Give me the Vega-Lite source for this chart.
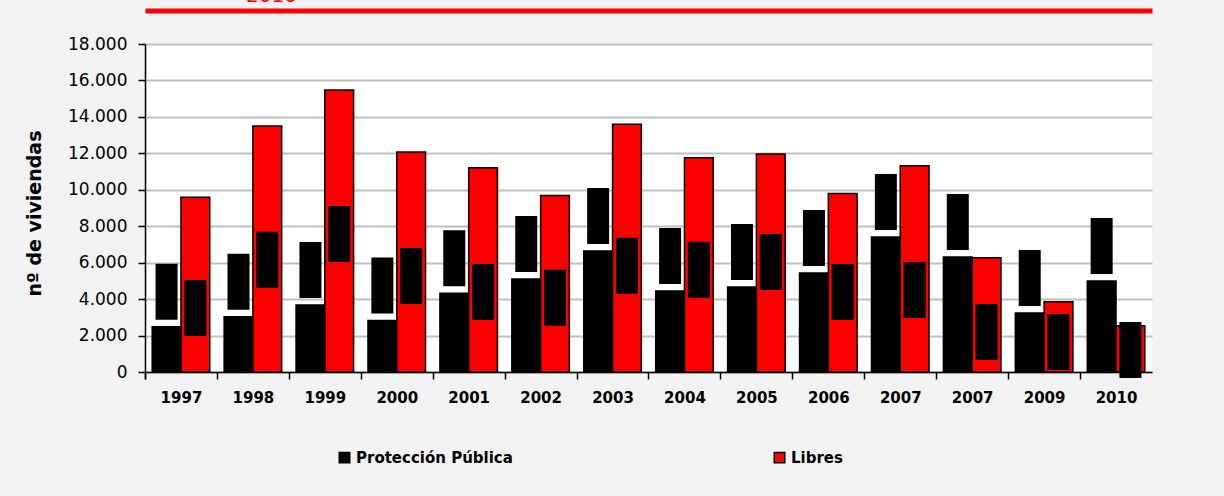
{
  "$schema": "https://vega.github.io/schema/vega-lite/v6.json",
  "width": 1007,
  "height": 328,
  "autosize": {"type": "none"},
  "padding": {"left": 145, "top": 44, "right": 72, "bottom": 124},
  "background": "#f2f2f2",
  "view": {"fill": "#ffffff", "stroke": null},
  "title": {"text": "2010", "color": "#ff0000", "fontSize": 20, "font": "DejaVu Sans", "fontWeight": "normal", "anchor": "start", "frame": "group", "dx": 101, "offset": 3, "dy": 14, "baseline": "alphabetic"},
  "data": {
    "values": [
      {"periodo": "1997", "serie": "Protección Pública", "valor": 2490},
      {"periodo": "1997", "serie": "Libres", "valor": 9590, "etiqueta": 3510},
      {"periodo": "1998", "serie": "Protección Pública", "valor": 3030},
      {"periodo": "1998", "serie": "Libres", "valor": 13500, "etiqueta": 6160},
      {"periodo": "1999", "serie": "Protección Pública", "valor": 3680},
      {"periodo": "1999", "serie": "Libres", "valor": 15480, "etiqueta": 7580},
      {"periodo": "2000", "serie": "Protección Pública", "valor": 2820},
      {"periodo": "2000", "serie": "Libres", "valor": 12070, "etiqueta": 5270},
      {"periodo": "2001", "serie": "Protección Pública", "valor": 4320},
      {"periodo": "2001", "serie": "Libres", "valor": 11210, "etiqueta": 4390},
      {"periodo": "2002", "serie": "Protección Pública", "valor": 5100},
      {"periodo": "2002", "serie": "Libres", "valor": 9680, "etiqueta": 4070},
      {"periodo": "2003", "serie": "Protección Pública", "valor": 6640},
      {"periodo": "2003", "serie": "Libres", "valor": 13590, "etiqueta": 5830},
      {"periodo": "2004", "serie": "Protección Pública", "valor": 4450},
      {"periodo": "2004", "serie": "Libres", "valor": 11760, "etiqueta": 5610},
      {"periodo": "2005", "serie": "Protección Pública", "valor": 4670},
      {"periodo": "2005", "serie": "Libres", "valor": 11960, "etiqueta": 6040},
      {"periodo": "2006", "serie": "Protección Pública", "valor": 5430},
      {"periodo": "2006", "serie": "Libres", "valor": 9790, "etiqueta": 4390},
      {"periodo": "2007", "serie": "Protección Pública", "valor": 7410},
      {"periodo": "2007", "serie": "Libres", "valor": 11320, "etiqueta": 4500},
      {"periodo": "2007\u200b", "serie": "Protección Pública", "valor": 6310},
      {"periodo": "2007\u200b", "serie": "Libres", "valor": 6270, "etiqueta": 2200},
      {"periodo": "2009", "serie": "Protección Pública", "valor": 3240},
      {"periodo": "2009", "serie": "Libres", "valor": 3860, "etiqueta": 1650},
      {"periodo": "2010", "serie": "Protección Pública", "valor": 4990},
      {"periodo": "2010", "serie": "Libres", "valor": 2540, "etiqueta": 1210}
    ]
  },
  "encoding": {
    "x": {
      "field": "periodo", "type": "nominal", "sort": null,
      "scale": {"paddingInner": 0.2, "paddingOuter": 0.1},
      "axis": {"title": null, "labelFont": "DejaVu Sans", "labelFontSize": 15, "labelFontWeight": "bold", "labelColor": "#000000", "labelAngle": 0, "domainColor": "#000000", "domainWidth": 1.5, "tickColor": "#000000", "tickWidth": 1.5, "tickSize": 7, "bandPosition": 0, "tickExtra": true, "tickOffset": -7.2, "labelOffset": 7.2, "labelPadding": 11, "grid": false}
    },
    "xOffset": {"field": "serie", "type": "nominal", "sort": ["Protección Pública", "Libres"], "scale": {"paddingInner": 0, "paddingOuter": 0}},
    "y": {
      "field": "valor", "type": "quantitative", "title": "nº de viviendas",
      "scale": {"domain": [0, 18000], "nice": false},
      "axis": {"values": [0, 2000, 4000, 6000, 8000, 10000, 12000, 14000, 16000, 18000], "labelOverlap": false, "labelExpr": "replace(format(datum.value, ','), ',', '.')", "labelFont": "DejaVu Sans", "labelFontSize": 17, "labelColor": "#000000", "labelPadding": 11, "tickSize": 7, "tickColor": "#000000", "tickWidth": 1.5, "domainColor": "#000000", "domainWidth": 1.5, "gridColor": "#c0c0c0", "gridWidth": 2, "titleFont": "DejaVu Sans", "titleFontSize": 19, "titleFontWeight": "bold", "titleColor": "#000000", "titleX": -111, "titleY": 169, "titleAngle": -90, "titleAlign": "center", "titleBaseline": "middle"}
    }
  },
  "layer": [
    {
      "mark": {"type": "bar", "stroke": "#000000", "strokeWidth": 1.5},
      "encoding": {
        "color": {
          "field": "serie", "type": "nominal",
          "scale": {"domain": ["Protección Pública", "Libres"], "range": ["#000000", "#ff0000"]},
          "legend": {"title": null, "orient": "none", "legendX": 192, "legendY": 406, "direction": "horizontal", "symbolType": "square", "symbolSize": 110, "symbolStrokeColor": "#000000", "symbolStrokeWidth": 1.5, "labelFont": "DejaVu Sans", "labelFontSize": 15, "labelFontWeight": "bold", "labelColor": "#000000", "columnPadding": 258, "labelOffset": 4}
        }
      }
    },
    {
      "transform": [{"filter": "datum.serie === 'Protección Pública'"}],
      "mark": {"type": "tick", "orient": "vertical", "size": 56, "thickness": 22, "yOffset": -35, "color": "#000000", "opacity": 1},
      "encoding": {
        "x": {"field": "periodo", "type": "nominal", "sort": null, "axis": null}
      }
    },
    {
      "transform": [{"filter": "datum.serie === 'Libres'"}],
      "mark": {"type": "tick", "orient": "vertical", "size": 56, "thickness": 22, "color": "#000000", "opacity": 1},
      "encoding": {
        "x": {"field": "periodo", "type": "nominal", "sort": null, "axis": {"orient": "top", "title": null, "labels": false, "ticks": false, "grid": false, "domainColor": "#ff0000", "domainWidth": 5, "offset": 33.5}},
        "y": {
          "field": "etiqueta", "type": "quantitative", "title": "nº de viviendas",
          "axis": {"values": [0, 2000, 4000, 6000, 8000, 10000, 12000, 14000, 16000, 18000], "labelOverlap": false, "labelExpr": "replace(format(datum.value, ','), ',', '.')", "labelFont": "DejaVu Sans", "labelFontSize": 17, "labelColor": "#000000", "labelPadding": 11, "tickSize": 7, "tickColor": "#000000", "tickWidth": 1.5, "domainColor": "#000000", "domainWidth": 1.5, "gridColor": "#c0c0c0", "gridWidth": 2, "titleFont": "DejaVu Sans", "titleFontSize": 19, "titleFontWeight": "bold", "titleColor": "#000000", "titleX": -111, "titleY": 169, "titleAngle": -90, "titleAlign": "center", "titleBaseline": "middle"}
        }
      }
    }
  ],
  "resolve": {"axis": {"x": "independent"}}
}
